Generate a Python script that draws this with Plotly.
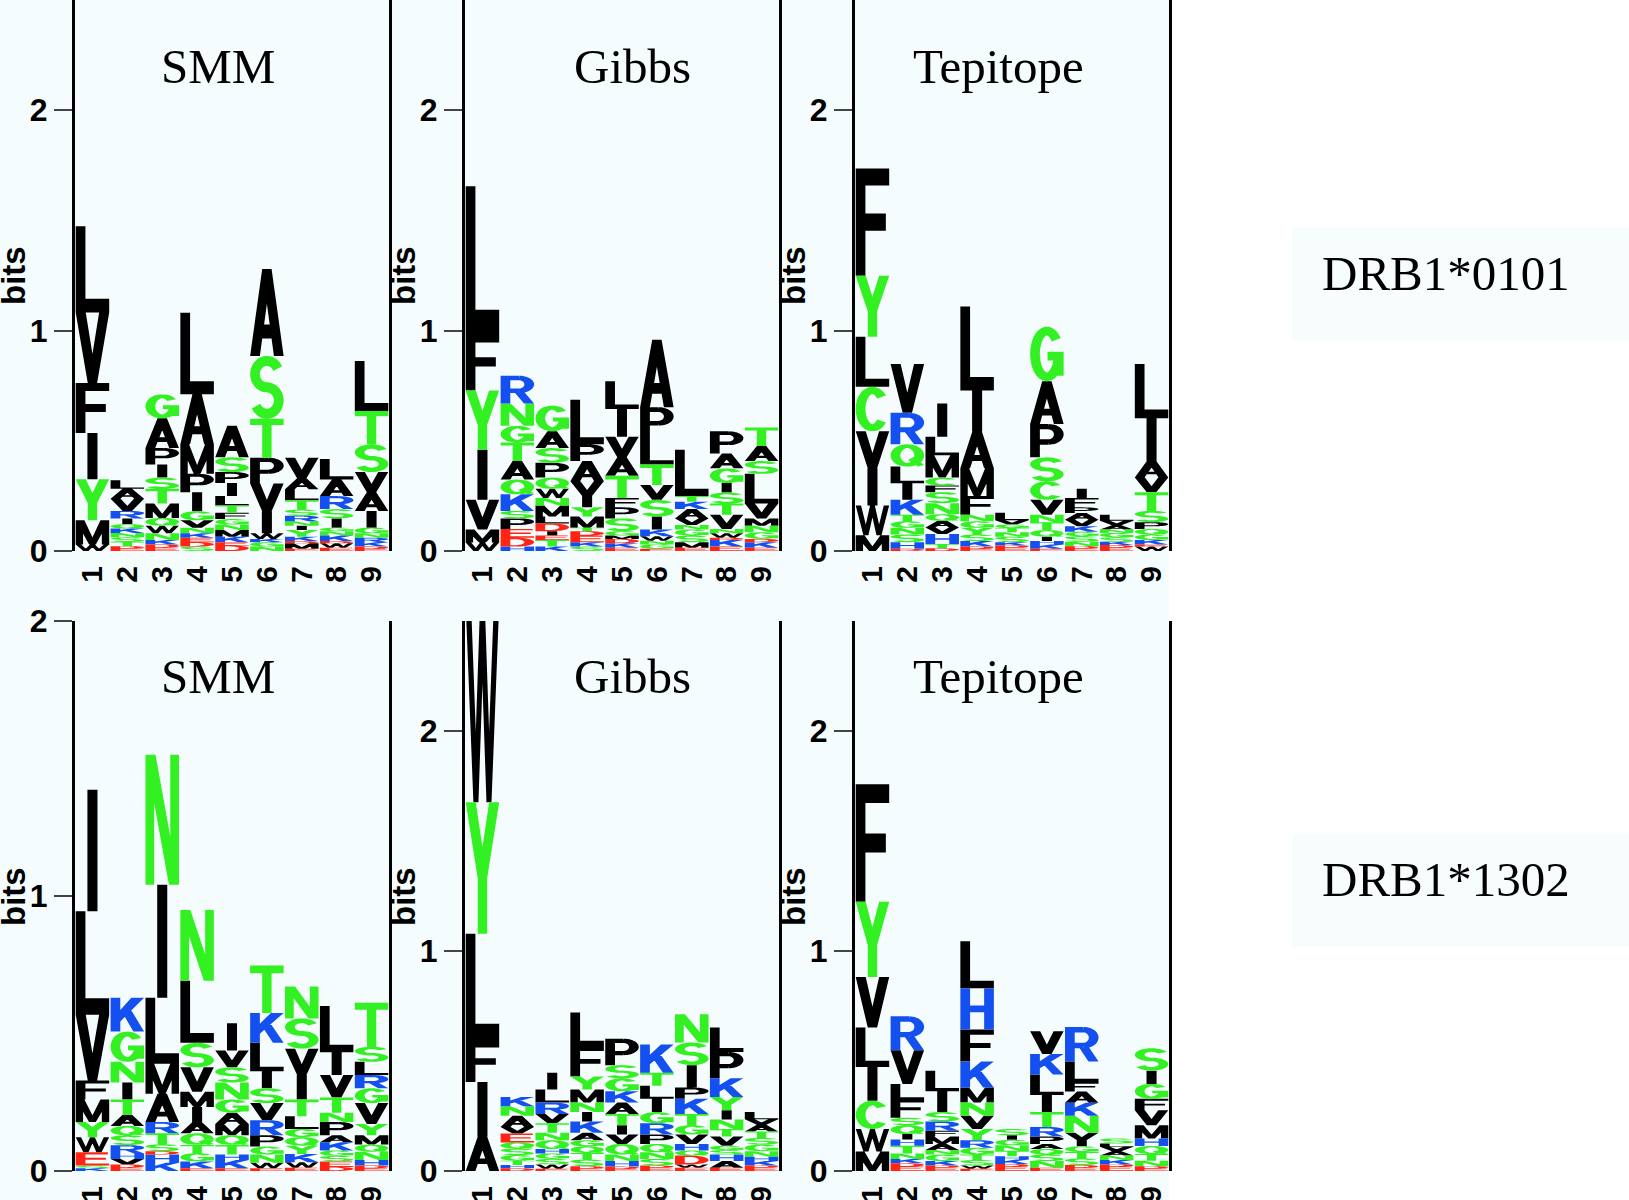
import numpy as np
import plotly.graph_objects as go

positions = [1, 2, 3, 4, 5, 6, 7, 8, 9]
methods = ["SMM", "Gibbs", "Tepitope"]
alleles = ["DRB1*0101", "DRB1*1302"]

# residues per position, bottom of the stack first, with their heights in bits
smm_0101_res = ["WMYIFVL", "EDTSNKQIRVAL", "EDKNWQMTSIPAG", "SDEKNVGIPMAL", "DEKMNGFTLIPSA",
                "NGKWIVPTSA", "EMDKYINRSTLAV", "EWDKNGISRAL", "EDKRNGIAVSTL"]
smm_0101_bits = [
    [0.03, 0.11, 0.185, 0.21, 0.227, 0.32, 0.391],
    [0.012, 0.01, 0.02, 0.02, 0.02, 0.02, 0.02, 0.026, 0.034, 0.055, 0.045, 0.039],
    [0.015, 0.015, 0.02, 0.03, 0.035, 0.035, 0.065, 0.067, 0.051, 0.059, 0.075, 0.135, 0.109],
    [0.02, 0.02, 0.02, 0.02, 0.026, 0.034, 0.04, 0.086, 0.084, 0.134, 0.227, 0.37],
    [0.025, 0.015, 0.025, 0.03, 0.025, 0.025, 0.028, 0.034, 0.042, 0.059, 0.05, 0.067, 0.143],
    [0.02, 0.02, 0.015, 0.025, 0.1, 0.126, 0.117, 0.177, 0.285, 0.395],
    [0.01, 0.025, 0.01, 0.02, 0.03, 0.02, 0.02, 0.025, 0.028, 0.042, 0.05, 0.05, 0.093],
    [0.015, 0.02, 0.01, 0.025, 0.02, 0.016, 0.042, 0.042, 0.059, 0.075, 0.093],
    [0.01, 0.01, 0.02, 0.02, 0.02, 0.026, 0.076, 0.084, 0.092, 0.126, 0.151, 0.227],
]

gibbs_0101_res = ["WMVIYFL", "HDEPSKQATGNR", "KTEIDLMNWQPSAG", "SKEDTMYIVAPL", "EKDMGSPFTAVIL",
                  "EGNWKISVTLPA", "EMSGNVAKTL", "EKDWNVTSIGAP", "EKDGNMVLSAT"]
gibbs_0101_bits = [
    [0.039, 0.058, 0.135, 0.227, 0.269, 0.26, 0.667],
    [0.02, 0.04, 0.04, 0.048, 0.034, 0.075, 0.067, 0.084, 0.084, 0.076, 0.101, 0.126],
    [0.02, 0.03, 0.02, 0.02, 0.035, 0.031, 0.05, 0.034, 0.042, 0.051, 0.067, 0.067, 0.076, 0.117],
    [0.02, 0.02, 0.03, 0.02, 0.016, 0.05, 0.042, 0.05, 0.068, 0.092, 0.076, 0.202],
    [0.015, 0.02, 0.02, 0.015, 0.02, 0.058, 0.05, 0.042, 0.101, 0.084, 0.093, 0.126, 0.126],
    [0.01, 0.02, 0.017, 0.02, 0.03, 0.059, 0.076, 0.067, 0.093, 0.126, 0.134, 0.306],
    [0.015, 0.025, 0.03, 0.028, 0.02, 0.03, 0.042, 0.034, 0.025, 0.21],
    [0.02, 0.03, 0.01, 0.02, 0.02, 0.065, 0.05, 0.05, 0.043, 0.067, 0.067, 0.101],
    [0.015, 0.025, 0.015, 0.03, 0.03, 0.033, 0.067, 0.135, 0.058, 0.068, 0.084],
]

tepi_0101_res = ["MWIVCLYF", "DHSNGTKILQRV", "DTHVAQNSFCMLI", "EDKSYGNFMAIL", "EDKSNTGVL",
                 "EKHIQTNVCSPAG", "EDNSGKVAPFI", "EDKSGNAVL", "WEKGQPSTVAIL"]
tepi_0101_bits = [
    [0.072, 0.135, 0.168, 0.168, 0.202, 0.227, 0.277, 0.487],
    [0.01, 0.03, 0.035, 0.03, 0.03, 0.03, 0.067, 0.075, 0.076, 0.101, 0.143, 0.222],
    [0.012, 0.02, 0.045, 0.03, 0.03, 0.03, 0.05, 0.05, 0.03, 0.036, 0.101, 0.084, 0.151],
    [0.01, 0.01, 0.025, 0.03, 0.03, 0.03, 0.03, 0.084, 0.126, 0.168, 0.185, 0.381],
    [0.015, 0.01, 0.015, 0.025, 0.02, 0.02, 0.015, 0.02, 0.033],
    [0.01, 0.02, 0.015, 0.02, 0.03, 0.035, 0.035, 0.067, 0.084, 0.109, 0.151, 0.194, 0.248],
    [0.012, 0.01, 0.02, 0.025, 0.02, 0.025, 0.03, 0.03, 0.026, 0.042, 0.042],
    [0.015, 0.012, 0.015, 0.02, 0.02, 0.015, 0.02, 0.02, 0.028],
    [0.02, 0.01, 0.02, 0.025, 0.025, 0.031, 0.051, 0.084, 0.067, 0.075, 0.194, 0.247],
]

smm_1302_res = ["KSEWYMFVLI", "EDVHRSQATINGK", "KHDSTRAMLIN", "EKGTQAIMVSLN", "EKHTQMAGNSVI",
                "EWNGPRVSILKT", "EWKYQGLTIVSN", "DESGKAPNTVIL", "EDHNQMYVGRLST"]
smm_1302_bits = [
    [0.01, 0.01, 0.048, 0.055, 0.055, 0.082, 0.069, 0.239, 0.377, 0.441],
    [0.012, 0.012, 0.02, 0.02, 0.03, 0.036, 0.034, 0.041, 0.055, 0.062, 0.075, 0.11, 0.123],
    [0.03, 0.03, 0.012, 0.025, 0.04, 0.041, 0.103, 0.109, 0.24, 0.411, 0.473],
    [0.01, 0.025, 0.03, 0.03, 0.042, 0.041, 0.055, 0.055, 0.089, 0.089, 0.226, 0.257],
    [0.01, 0.03, 0.02, 0.035, 0.035, 0.041, 0.041, 0.048, 0.062, 0.055, 0.061, 0.099],
    [0.01, 0.02, 0.03, 0.029, 0.041, 0.055, 0.062, 0.054, 0.062, 0.103, 0.109, 0.172],
    [0.012, 0.02, 0.03, 0.03, 0.031, 0.03, 0.046, 0.061, 0.089, 0.096, 0.11, 0.116],
    [0.015, 0.02, 0.02, 0.02, 0.03, 0.025, 0.048, 0.034, 0.055, 0.082, 0.083, 0.168],
    [0.01, 0.01, 0.02, 0.03, 0.026, 0.034, 0.041, 0.076, 0.054, 0.048, 0.048, 0.055, 0.16],
]

gibbs_1302_res = ["AIFLYW", "DHTGSQEVANK", "EWSGHQNTVRLI", "EDSTQGAKINMYFL", "EDHNQVITAKGSP",
                  "EDSNQPRGILTK", "EWDQHVGTKPISN", "EAHSGVTNIYKPL", "EDKHNGSTAVL"]
gibbs_1302_bits = [
    [0.157, 0.247, 0.188, 0.486, 0.598, 0.9],
    [0.012, 0.015, 0.02, 0.025, 0.03, 0.028, 0.04, 0.03, 0.051, 0.043, 0.042],
    [0.01, 0.02, 0.025, 0.025, 0.02, 0.04, 0.034, 0.043, 0.042, 0.052, 0.059, 0.077],
    [0.012, 0.01, 0.03, 0.03, 0.03, 0.028, 0.034, 0.051, 0.043, 0.043, 0.059, 0.06, 0.137, 0.153],
    [0.01, 0.01, 0.025, 0.03, 0.048, 0.043, 0.042, 0.051, 0.052, 0.051, 0.059, 0.06, 0.12],
    [0.015, 0.01, 0.03, 0.03, 0.038, 0.043, 0.051, 0.051, 0.06, 0.059, 0.06, 0.128],
    [0.015, 0.015, 0.04, 0.023, 0.03, 0.043, 0.042, 0.051, 0.069, 0.051, 0.102, 0.103, 0.128],
    [0.015, 0.03, 0.03, 0.02, 0.02, 0.042, 0.034, 0.043, 0.042, 0.06, 0.086, 0.119, 0.111],
    [0.015, 0.01, 0.02, 0.02, 0.025, 0.03, 0.03, 0.03, 0.03, 0.025, 0.033],
]

tepi_1302_res = ["MWCILVYF", "EDKNTHIQSFLVR", "EDKGNAMFRSIL", "EWSTGRYVNMKFHL", "EDKHTNGIS",
                 "ENSQAPRTILKV", "EDSTGIVNKAFLR", "EDKNAVLS", "EDNTQHMVFGIS"]
tepi_1302_bits = [
    [0.089, 0.102, 0.128, 0.154, 0.179, 0.23, 0.342, 0.534],
    [0.02, 0.015, 0.02, 0.025, 0.035, 0.028, 0.025, 0.04, 0.034, 0.082, 0.072, 0.153, 0.154],
    [0.015, 0.01, 0.02, 0.03, 0.02, 0.028, 0.034, 0.026, 0.042, 0.043, 0.094, 0.094],
    [0.01, 0.015, 0.025, 0.025, 0.031, 0.034, 0.051, 0.06, 0.06, 0.068, 0.119, 0.145, 0.188, 0.213],
    [0.02, 0.012, 0.02, 0.015, 0.025, 0.025, 0.025, 0.02, 0.029],
    [0.015, 0.03, 0.03, 0.025, 0.023, 0.034, 0.043, 0.068, 0.077, 0.094, 0.093, 0.103],
    [0.015, 0.012, 0.03, 0.03, 0.025, 0.028, 0.034, 0.077, 0.059, 0.051, 0.043, 0.094, 0.157],
    [0.02, 0.01, 0.02, 0.02, 0.02, 0.02, 0.015, 0.023],
    [0.012, 0.01, 0.025, 0.03, 0.037, 0.034, 0.06, 0.068, 0.052, 0.068, 0.06, 0.102],
]

panels = [
    (smm_0101_res, smm_0101_bits, 2.5), (gibbs_0101_res, gibbs_0101_bits, 2.5), (tepi_0101_res, tepi_0101_bits, 2.5),
    (smm_1302_res, smm_1302_bits, 2.0), (gibbs_1302_res, gibbs_1302_bits, 2.5), (tepi_1302_res, tepi_1302_bits, 2.5),
]

palette = {"black": "#000000", "green": "#33f022", "blue": "#1450f0", "red": "#ff2414"}
colour_of = {}
for ch in "AFILMPVW":
    colour_of[ch] = "black"
for ch in "CGNQSTY":
    colour_of[ch] = "green"
for ch in "HKR":
    colour_of[ch] = "blue"
for ch in "DE":
    colour_of[ch] = "red"

# ---- letter outlines in a unit box (bold sans, drawn as filled strokes) ----
SW, BH = 0.29, 0.16
HX, HY = SW / 2, BH / 2


def rect(x0, y0, x1, y1):
    return [(x0, y0), (x1, y0), (x1, y1), (x0, y1)]


def arc(cx, cy, rx, ry, a0, a1, n=28):
    t = np.radians(np.linspace(a0, a1, n))
    return np.column_stack([cx + rx * np.cos(t), cy + ry * np.sin(t)])


def band(centre):
    p = np.asarray(centre, float)
    d = np.gradient(p / (HX, HY), axis=0)
    d = d / np.linalg.norm(d, axis=1, keepdims=True)
    off = np.column_stack([-d[:, 1], d[:, 0]]) * (HX, HY)
    return np.vstack([p + off, (p - off)[::-1]])


def ccw(poly):
    p = np.asarray(poly, float)
    area = np.sum(p[:, 0] * np.roll(p[:, 1], -1) - np.roll(p[:, 0], -1) * p[:, 1])
    return p if area > 0 else p[::-1]


pb = 0.38
p_shape = [rect(0, 0, SW, 1), rect(0, 1 - BH, 0.55, 1), rect(0, pb, 0.55, pb + BH),
           band(arc(0.55, (1 + pb) / 2, 0.45 - HX, (1 - pb) / 2 - HY, -90, 90))]
sr = (0.5 - HY) / 2
s_line = np.vstack([arc(0.5, 0.5 + sr, 0.5 - HX, sr, 25, 270),
                    arc(0.5, 0.5 - sr, 0.5 - HX, sr, 90, -155)[1:]])

glyphs = {
    "A": [[(0, 0), (SW, 0), (0.64, 1), (0.36, 1)], [(1 - SW, 0), (1, 0), (0.64, 1), (0.36, 1)],
          rect(0.22, 0.2, 0.78, 0.2 + BH)],
    "C": [band(arc(0.5, 0.5, 0.5 - HX, 0.5 - HY, 40, 320))],
    "D": [rect(0, 0, SW, 1), rect(0, 0, 0.45, BH), rect(0, 1 - BH, 0.45, 1),
          band(arc(0.45, 0.5, 0.55 - HX, 0.5 - HY, -90, 90))],
    "E": [rect(0, 0, SW, 1), rect(0, 1 - BH, 0.96, 1), rect(0, 0.43, 0.9, 0.43 + BH), rect(0, 0, 1, BH)],
    "F": [rect(0, 0, SW, 1), rect(0, 1 - BH, 1, 1), rect(0, 0.42, 0.9, 0.42 + BH)],
    "G": [band(arc(0.5, 0.5, 0.5 - HX, 0.5 - HY, 38, 350)), rect(1 - SW, 0.1, 1, 0.38 + BH),
          rect(0.52, 0.38, 1, 0.38 + BH)],
    "H": [rect(0, 0, SW, 1), rect(1 - SW, 0, 1, 1), rect(0, 0.42, 1, 0.42 + BH)],
    "I": [rect(0.35, 0, 0.65, 1)],
    "K": [rect(0, 0, SW, 1), [(SW, 0.3), (1, 1), (0.62, 1), (SW, 0.64)],
          [(0.68, 0), (1, 0), (0.6, 0.66), (0.4, 0.48)]],
    "L": [rect(0, 0, SW, 1), rect(0, 0, 1, BH)],
    "M": [rect(0, 0, 0.22, 1), rect(0.78, 0, 1, 1), [(0, 1), (0.26, 1), (0.6, 0), (0.4, 0)],
          [(0.74, 1), (1, 1), (0.6, 0), (0.4, 0)]],
    "N": [rect(0, 0, 0.26, 1), rect(0.74, 0, 1, 1), [(0, 1), (0.3, 1), (1, 0), (0.7, 0)]],
    "P": p_shape,
    "Q": [band(arc(0.5, 0.5, 0.5 - HX, 0.5 - HY, 0, 360, 48)), [(0.52, 0.3), (0.7, 0.44), (1, 0.07), (0.82, 0)]],
    "R": p_shape + [[(0.42, 0.4), (0.72, 0.4), (1, 0), (0.7, 0)]],
    "S": [band(s_line)],
    "T": [rect(0, 1 - BH, 1, 1), rect(0.36, 0, 0.64, 1)],
    "V": [[(0, 1), (0.3, 1), (0.64, 0), (0.36, 0)], [(0.7, 1), (1, 1), (0.64, 0), (0.36, 0)]],
    "W": [[(0, 1), (0.16, 1), (0.38, 0), (0.23, 0)], [(0.23, 0), (0.38, 0), (0.58, 1), (0.43, 1)],
          [(0.62, 0), (0.77, 0), (0.57, 1), (0.42, 1)], [(0.84, 1), (1, 1), (0.77, 0), (0.62, 0)]],
    "Y": [[(0, 1), (0.3, 1), (0.64, 0.42), (0.36, 0.42)], [(0.7, 1), (1, 1), (0.64, 0.42), (0.36, 0.42)],
          rect(0.36, 0, 0.64, 0.45)],
}
glyphs = {k: [ccw(p) for p in v] for k, v in glyphs.items()}

# ---- page geometry (pixels) ----
W, H = 1629, 1200
panel_x = [(75, 389), (465, 779), (855, 1169)]
row_y = [(0, 551), (621, 1171)]
title_x = [218, 632, 998]
title_y = [66, 676]
bits_y = [276, 897]
allele_x = 1446
allele_y = [273, 880]
allele_box = [(227, 340), (834, 947)]
GAP = 0.02
PANEL_BG = "#f5fcfd"

fig = go.Figure()
layout = {}
axis_font = dict(family="Liberation Sans", size=32, color="black", weight="bold")

for k, (res, bits, ymax) in enumerate(panels):
    row, col = divmod(k, 3)
    sfx = "" if k == 0 else str(k + 1)
    xs = {c: [] for c in palette}
    ys = {c: [] for c in palette}
    for pos, col_res, col_bits in zip(positions, res, bits, strict=True):
        base = 0.0
        for ch, h in zip(col_res, col_bits, strict=True):
            c = colour_of[ch]
            for poly in glyphs[ch]:
                xs[c].extend((pos - 0.5 + GAP + poly[:, 0] * (1 - 2 * GAP)).tolist() + [None])
                ys[c].extend((base + poly[:, 1] * h).tolist() + [None])
            base += h
    for c, hexcol in palette.items():
        fig.add_trace(go.Scatter(
            x=xs[c], y=ys[c], mode="lines", fill="toself", fillcolor=hexcol,
            line=dict(width=0, color=hexcol, simplify=False), hoverinfo="skip",
            showlegend=False, xaxis="x" + sfx, yaxis="y" + sfx))

    x0, x1 = panel_x[col]
    top, bottom = row_y[row]
    layout["xaxis" + sfx] = dict(
        domain=[x0 / W, x1 / W], range=[0.5, 9.5], anchor="y" + sfx,
        tickvals=positions, ticktext=[str(p) for p in positions], tickangle=-90,
        ticks="", showline=False, showgrid=False, zeroline=False, automargin=False,
        ticklabelstandoff=8, tickfont=dict(family="Liberation Sans", size=30, color="black", weight="bold"),
        fixedrange=True)
    layout["yaxis" + sfx] = dict(
        domain=[1 - bottom / H, 1 - top / H], range=[0, ymax], anchor="x" + sfx,
        tickvals=[0, 1, 2], ticks="outside", ticklen=18, tickwidth=1.5, tickcolor="#444444",
        showline=True, linewidth=3, linecolor="black", mirror=True,
        showgrid=False, zeroline=False, automargin=False, tickfont=axis_font, fixedrange=True)

annotations = []
shapes = [dict(type="rect", xref="paper", yref="paper", x0=0, x1=1169 / W, y0=0, y1=1,
               fillcolor=PANEL_BG, line=dict(width=0), layer="below")]
for row in range(2):
    for col, name in enumerate(methods):
        annotations.append(dict(
            text=name, x=title_x[col] / W, y=1 - title_y[row] / H, xref="paper", yref="paper",
            showarrow=False, xanchor="center", yanchor="middle",
            font=dict(family="Liberation Serif", size=49, color="black")))
        annotations.append(dict(
            text="bits", x=(panel_x[col][0] - 62) / W, y=1 - bits_y[row] / H, xref="paper", yref="paper",
            showarrow=False, xanchor="center", yanchor="middle", textangle=-90,
            font=dict(family="Liberation Sans", size=33, color="black", weight="bold")))
    b0, b1 = allele_box[row]
    shapes.append(dict(type="rect", xref="paper", yref="paper", x0=1292 / W, x1=1.0,
                       y0=1 - b1 / H, y1=1 - b0 / H, fillcolor="#f7fcfd", line=dict(width=0), layer="below"))
    annotations.append(dict(
        text=alleles[row], x=allele_x / W, y=1 - allele_y[row] / H, xref="paper", yref="paper",
        showarrow=False, xanchor="center", yanchor="middle",
        font=dict(family="Liberation Serif", size=49, color="black")))

fig.update_layout(
    width=W, height=H, autosize=False,
    margin=dict(l=0, r=0, t=0, b=0),
    paper_bgcolor="#ffffff", plot_bgcolor=PANEL_BG,
    annotations=annotations, shapes=shapes, **layout)

fig.write_html("out.html", config={"displayModeBar": False},
               post_script="document.body.style.margin='0px';")
